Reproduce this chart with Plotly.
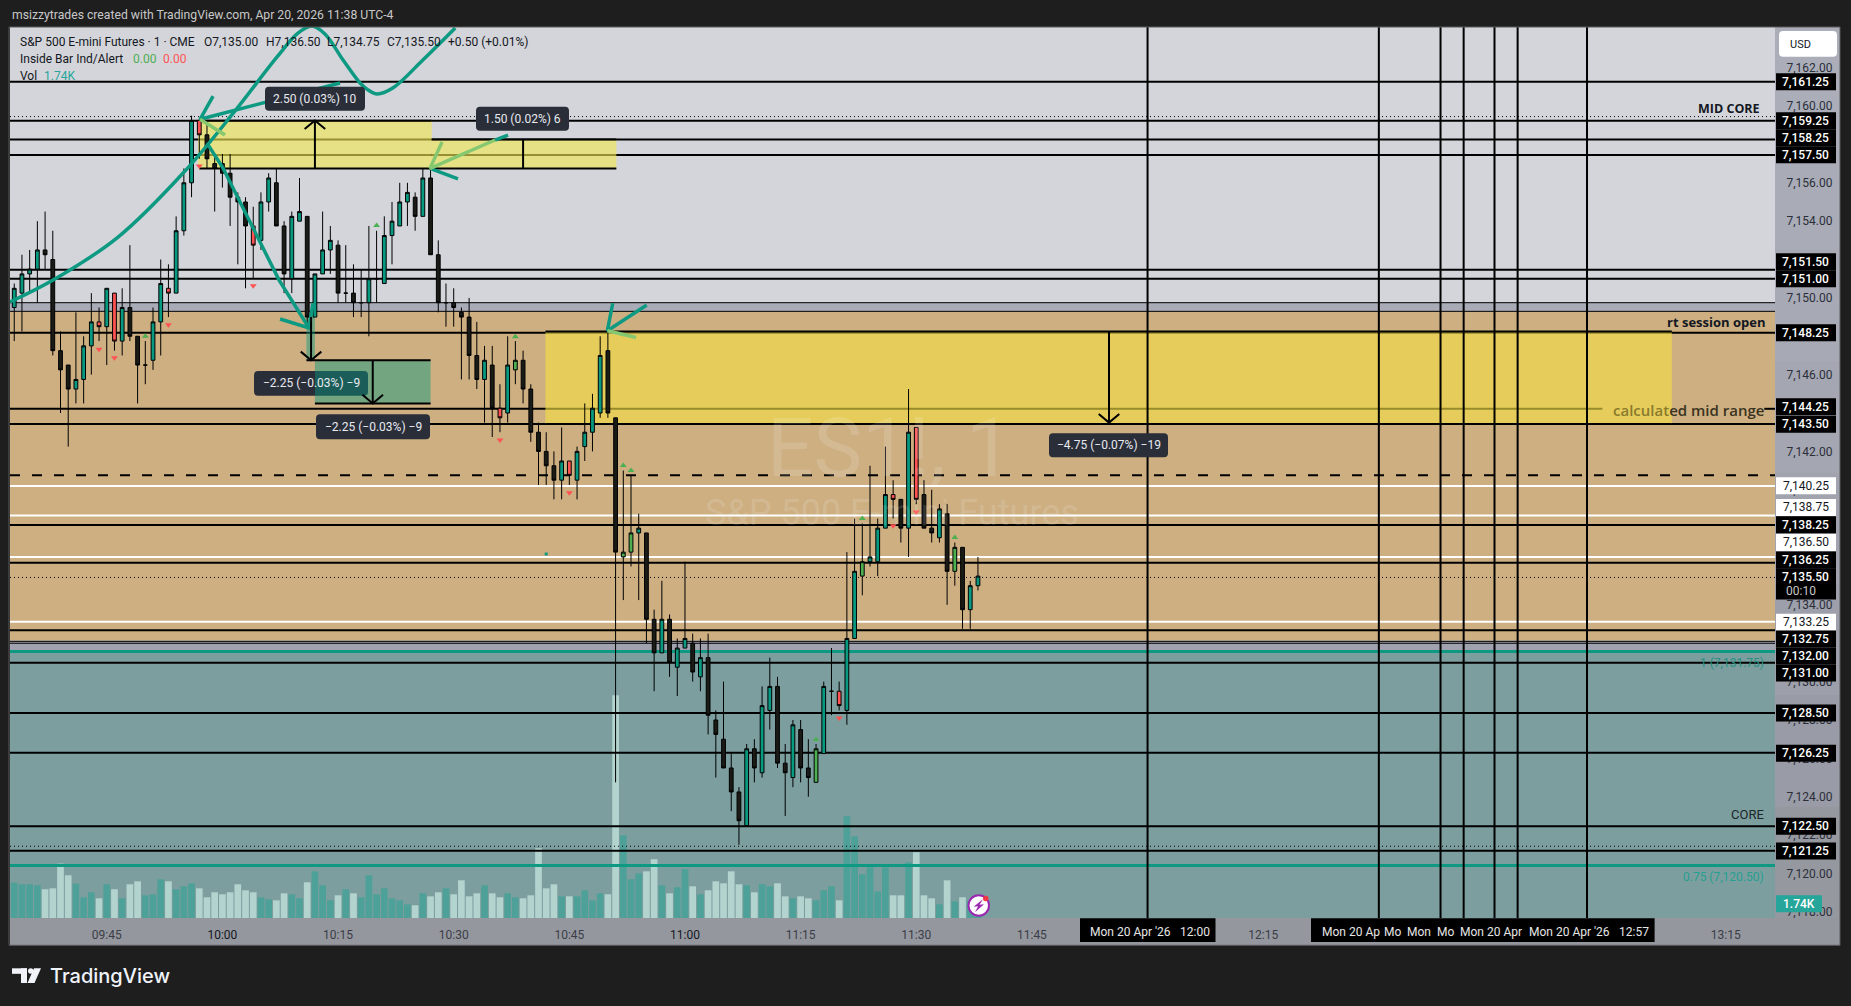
import pandas as pd
import plotly.graph_objects as go


## DATA ##
start_time = "2026-04-20 09:33"
opens = [7149.5, 7150.25, 7151.25, 7151.5, 7152.5, 7152, 7147.25, 7146.5, 7145.25, 7145.75,
         7147.5, 7148.75, 7148.5, 7150.25, 7147.75, 7149.5, 7148, 7146.5, 7146.75, 7148.75,
         7150.5, 7150.25, 7153.5, 7156, 7159.25, 7158.5, 7157, 7157, 7156.5, 7155.25,
         7155, 7153.75, 7153, 7155, 7156, 7153.75, 7151, 7154, 7154.25, 7149,
         7151.25, 7152.5, 7152.75, 7150.25, 7150.25, 7149.75, 7149.75, 7151, 7150.75, 7153.25,
         7153.75, 7155, 7155.25, 7154.25, 7156.25, 7152.25, 7149.75, 7149.75, 7149.25, 7149,
         7147, 7145.75, 7146.5, 7144.25, 7144, 7146.25, 7146.75, 7145.25, 7143, 7142,
         7141.25, 7140.5, 7141.5, 7140.5, 7142.25, 7143, 7144, 7147.25, 7143.75, 7136.5,
         7136.75, 7137.75, 7137.75, 7133.25, 7131.5, 7133.25, 7130.75, 7131.75, 7132, 7130.25,
         7131.25, 7128, 7127, 7125.5, 7124.25, 7122.5, 7126.5, 7125.25, 7128.5, 7129.75,
         7125.75, 7125, 7127.5, 7125.5, 7124.75, 7126.25, 7129.5, 7129.5, 7128.5, 7132.25,
         7135.5, 7136.25, 7136.25, 7138, 7139.75, 7139.5, 7138, 7143.25, 7139.75, 7138,
         7137.5, 7138.75, 7135.75, 7137, 7133.75, 7135]
highs = [7150.75, 7152.25, 7152.5, 7154, 7154.5, 7153.5, 7148.25, 7146.5, 7149.25, 7148,
         7150.25, 7149.5, 7150.5, 7150.25, 7150.5, 7152.75, 7148, 7147.75, 7149.5, 7152,
         7151.75, 7154.25, 7156.75, 7159.5, 7159.25, 7159.25, 7157.5, 7157.5, 7157.5, 7155.5,
         7155.25, 7154.75, 7155.5, 7156.5, 7156.75, 7154, 7154.5, 7156.25, 7154.25, 7151.25,
         7154.5, 7153.75, 7153, 7152.75, 7151.75, 7151.5, 7153.75, 7153.5, 7154.25, 7155,
         7156, 7156, 7155.5, 7156.75, 7156.75, 7153, 7150.75, 7150.5, 7149.5, 7150,
         7148.75, 7147.5, 7147.5, 7145.5, 7148, 7147.75, 7147.25, 7145.5, 7143.5, 7143,
         7142, 7143.25, 7141.5, 7142.25, 7144.5, 7145, 7148, 7148.25, 7143.75, 7141,
         7140.75, 7138.75, 7137.75, 7133.75, 7135.25, 7133.5, 7132.25, 7136.25, 7132.5, 7132.25,
         7132.5, 7128.5, 7130, 7126.25, 7124.5, 7126.75, 7127, 7129.75, 7131.25, 7130.25,
         7126.75, 7128, 7128, 7127, 7126.75, 7130, 7131.75, 7130, 7136.75, 7138.5,
         7138.25, 7141.25, 7138.5, 7142.25, 7140.5, 7139.5, 7145.25, 7143.25, 7140.5, 7140,
         7139.25, 7139.25, 7137.25, 7137, 7135.25, 7136.5]
lows = [7147.75, 7148.25, 7150.25, 7149.75, 7151.5, 7147, 7144, 7142.25, 7144.5, 7144.5,
        7146, 7147.75, 7146.5, 7147.25, 7147, 7147.75, 7144.5, 7145.5, 7146.25, 7147,
        7149, 7150.25, 7153.25, 7155.25, 7157.25, 7156.75, 7154.5, 7155.75, 7153.75, 7151.75,
        7150.5, 7151, 7152.5, 7154.5, 7153.75, 7150.25, 7150.25, 7154, 7148.5, 7149,
        7151.25, 7151.25, 7149.75, 7149.75, 7149, 7149, 7148, 7149.75, 7150.75, 7151.75,
        7153.75, 7153.75, 7153.5, 7154.25, 7152.25, 7149.25, 7148.5, 7148.5, 7145.75, 7145.75,
        7145.25, 7143.5, 7142.75, 7143, 7143.5, 7145.5, 7144.5, 7142.5, 7140.25, 7140.25,
        7139.5, 7139.5, 7140.25, 7139.5, 7141.5, 7142, 7143.75, 7143.75, 7124.75, 7134.25,
        7136, 7134.25, 7132, 7129.5, 7131.5, 7130.25, 7129.25, 7131.75, 7130, 7129.5,
        7127.25, 7125, 7125.5, 7123.25, 7121.5, 7122.5, 7124.75, 7125, 7127.5, 7125.5,
        7123, 7124.5, 7124.75, 7124, 7124.75, 7126.25, 7128.25, 7128.5, 7127.75, 7132.25,
        7134.5, 7136, 7135.5, 7138, 7138.5, 7137.25, 7136.5, 7139.25, 7138, 7137.25,
        7137.25, 7134, 7135, 7132.75, 7132.75, 7134.75]
closes = [7150.5, 7151.25, 7151.5, 7152.5, 7152.25, 7147.25, 7146.25, 7145.25, 7145.75, 7147.5,
          7148.75, 7148.5, 7150.5, 7147.75, 7149.5, 7148, 7146.5, 7146.5, 7148.75, 7150.75,
          7150.25, 7153.5, 7156, 7159.25, 7158.5, 7157.25, 7156.75, 7156.5, 7155.25, 7155,
          7153.75, 7152.75, 7155, 7156.25, 7153.75, 7151.25, 7154.25, 7154.5, 7149, 7151.25,
          7152.5, 7153, 7150.25, 7150.25, 7149.75, 7149.75, 7151, 7151, 7153.25, 7154,
          7155, 7155.5, 7154.25, 7156.25, 7152.25, 7149.75, 7149.75, 7149.5, 7149, 7147,
          7145.75, 7146.75, 7144.25, 7143.75, 7146.5, 7146.75, 7145.25, 7143, 7142, 7141.25,
          7140.5, 7141.5, 7140.75, 7142, 7143, 7144.25, 7147, 7144, 7136.75, 7136.75,
          7137.75, 7138, 7133.25, 7131.5, 7133.25, 7131, 7131.75, 7132.25, 7130.5, 7131.25,
          7128.25, 7127.25, 7125.5, 7124.25, 7122.75, 7126.5, 7125.5, 7128.75, 7129.75, 7125.75,
          7125.25, 7127.75, 7125.5, 7125, 7126.5, 7129.75, 7129.5, 7128.75, 7132.25, 7135.75,
          7136.25, 7136.5, 7138, 7139.75, 7139.5, 7138, 7143, 7139.5, 7138, 7137.75,
          7139, 7135.75, 7137, 7133.75, 7135, 7135.5]
volumes = [4.10, 3.91, 3.91, 3.79, 3.33, 3.44, 6.30, 4.95, 3.98, 2.40,
           2.98, 2.28, 3.91, 3.33, 2.28, 3.91, 4.25, 2.63, 2.75, 4.49,
           4.25, 3.33, 3.67, 4.02, 3.44, 2.40, 2.98, 2.75, 2.98, 3.91,
           3.21, 2.98, 2.40, 2.17, 2.05, 2.86, 2.75, 2.28, 4.14, 5.41,
           3.79, 2.05, 2.63, 3.33, 2.86, 2.40, 4.95, 2.75, 3.44, 2.28,
           2.05, 1.59, 1.47, 2.86, 2.51, 2.98, 3.44, 2.75, 4.37, 2.51,
           2.86, 3.79, 2.86, 2.40, 2.86, 2.40, 2.28, 2.63, 8.08, 3.44,
           3.91, 2.51, 2.51, 2.51, 3.21, 2.05, 2.86, 2.75, 25.83, 9.59,
           4.49, 5.18, 5.41, 6.81, 3.79, 2.86, 3.56, 5.65, 3.67, 2.75,
           3.21, 4.25, 4.02, 5.41, 3.91, 3.79, 2.98, 3.91, 3.67, 4.02,
           2.51, 2.28, 2.51, 2.28, 2.05, 3.21, 3.67, 2.05, 11.79, 9.47,
           5.07, 5.88, 3.09, 5.88, 2.63, 2.63, 6.46, 7.62, 2.63, 2.28,
           1.59, 4.37, 1.93, 2.40, 2.00, 1.74]

# inside bar signals
sell_times = ["09:44", "09:46", "09:53", "09:57", "10:04", "10:36", "10:45", "11:20", "11:27", "11:30"]
sell_prices = [7147.33, 7146.88, 7148.6, 7156.87, 7150.64, 7142.59, 7139.84, 7128.1, 7138.12, 7138.84]
buy_times = ["09:50", "10:20", "10:38", "10:52", "10:53", "11:17", "11:23", "11:35"]
buy_prices = [7148.0, 7153.78, 7147.98, 7141.27, 7141.0, 7126.98, 7138.5, 7137.51]
green_bars = ["10:38", "10:52", "10:53", "11:17", "11:23", "11:35"]

# horizontal levels
black_levels = [7161.27, 7159.24, 7158.25, 7157.45, 7151.47, 7151.0, 7148.18, 7143.43, 7138.17,
                7136.19, 7132.68, 7130.98, 7128.37, 7126.29, 7122.46, 7121.18]
thin_levels = [7149.75, 7149.3, 7132.1, 7132.0]
white_levels = [7140.2, 7138.66, 7136.5, 7133.12]
dotted_levels = [7159.45, 7135.43, 7121.42]
dashed_level = 7140.76
mid_range_level = 7144.22
fib_levels = [7131.57, 7120.42]
vertical_times = ["12:00", "12:30", "12:38", "12:41", "12:45", "12:48", "12:57"]

# axis ticks that are not fully hidden by a tag
tick_prices = [7118, 7120, 7122, 7124, 7126, 7128, 7130, 7134, 7140, 7142, 7146, 7150, 7154, 7156, 7160, 7162]
tick_times = ["09:45", "10:00", "10:15", "10:30", "10:45", "11:00", "11:15", "11:30", "11:45", "12:15", "13:15"]

# price tags on the right axis: text, centre pixel, white tag or not
tag_texts = ["7,161.25", "7,159.25", "7,158.25", "7,157.50", "7,151.50", "7,151.00", "7,148.25",
             "7,144.25", "7,143.50", "7,140.25", "7,138.75", "7,138.25", "7,136.50", "7,136.25",
             "7,133.25", "7,132.75", "7,132.00", "7,131.00", "7,128.50", "7,126.25", "7,122.50",
             "7,121.25"]
tag_rows = [81.7, 120.7, 137.7, 154.7, 261.7, 278.7, 332.7, 406.7, 424, 485.7, 507.3, 524.7,
            542.3, 559.7, 622, 638.7, 655.7, 672.7, 712.7, 753, 826, 850.7]
white_tags = ["7,140.25", "7,138.75", "7,136.50", "7,133.25"]

# hand drawn strokes, minutes after 09:45 and price
curve_min = [-12.54, -6.96, 1.47, 10.03, 16.43, 22.09, 24.8, 26.6, 28.3, 30.65, 32.85, 33.9, 35.06, 37.1, 41.0, 45.2]
curve_price = [7149.79, 7150.93, 7153.17, 7156.56, 7159.64, 7162.56, 7163.8, 7164.17, 7163.76, 7162.4,
               7161.2, 7160.84, 7160.63, 7160.94, 7162.4, 7164.07]
teal_strokes = [
    ([13.79, 12.1, 30.26], [7160.52, 7159.31, 7161.2]),
    ([13.0, 15.08, 22.35, 26.24], [7158.07, 7156.77, 7150.93, 7148.43]),
    ([22.48, 26.24, 26.75], [7148.9, 7148.43, 7149.73]),
    ([45.56, 41.93, 41.93], [7156.2, 7156.75, 7156.75]),
    ([50.36, 52.05], [7158.23, 7158.49]),
    ([65.63, 64.93, 70.04], [7149.72, 7148.29, 7149.63]),
]
light_strokes = [
    ([12.1, 15.34], [7159.31, 7158.49]),
    ([43.49, 41.93, 50.36], [7158.13, 7156.75, 7158.23]),
    ([64.93, 68.65], [7148.29, 7147.94]),
]


## PARAMS ##
WIDTH, HEIGHT = 1851, 1006
LEFT, RIGHT, TOP, BOTTOM = 10, 1775, 27, 917.7
PRICE_RANGE = [7117.68, 7164.12]
VOL_RANGE = [0, 103.3]
TIME_RANGE = ["2026-04-20 09:32:27", "2026-04-20 13:21:23"]
FONT = "Roboto"
TEAL = "#0E9A82"
LIGHT_STROKE = "#86C870"
DARK_LABEL = "#2A2E39"
INK = "#131722"


## FUNC ##
def at(hhmm):
    return pd.Timestamp(f"2026-04-20 {hhmm}")

def after_945(minutes):
    return pd.Timestamp("2026-04-20 09:45") + pd.Timedelta(minutes=minutes)

def px(x):
    return (x - LEFT) / (RIGHT - LEFT)

def py(y):
    return (BOTTOM - y) / (BOTTOM - TOP)

def text(x, y, s, size=12, color=INK, anchor="left", weight=None, family=FONT):
    fig.add_annotation(x=px(x), y=py(y), xref="paper", yref="paper", text=s, showarrow=False,
                       xanchor=anchor, yanchor="middle",
                       font=dict(size=size, color=color, family=family, weight=weight))

def box(x0, y0, x1, y1, color, layer="above"):
    fig.add_shape(type="rect", xref="paper", yref="paper", x0=px(x0), x1=px(x1), y0=py(y0), y1=py(y1),
                  fillcolor=color, line_width=0, layer=layer)

def round_box(x0, y0, x1, y1, color, r=4, layer="above"):
    """Rettangolo arrotondato in coordinate pixel, per le etichette dei righelli"""
    corners = (f"M {px(x0 + r)} {py(y0)} L {px(x1 - r)} {py(y0)} Q {px(x1)} {py(y0)} {px(x1)} {py(y0 + r)} "
               f"L {px(x1)} {py(y1 - r)} Q {px(x1)} {py(y1)} {px(x1 - r)} {py(y1)} "
               f"L {px(x0 + r)} {py(y1)} Q {px(x0)} {py(y1)} {px(x0)} {py(y1 - r)} "
               f"L {px(x0)} {py(y0 + r)} Q {px(x0)} {py(y0)} {px(x0 + r)} {py(y0)} Z")
    fig.add_shape(type="path", xref="paper", yref="paper", path=corners, fillcolor=color, line_width=0, layer=layer)

def level(price, color="black", width=2, dash=None, x0=TIME_RANGE[0], x1=TIME_RANGE[1]):
    fig.add_trace(go.Scatter(x=[x0, x1], y=[price, price], mode="lines", yaxis="y2", hoverinfo="skip",
                             line=dict(color=color, width=width, dash=dash), showlegend=False))

def zone(t0, t1, p0, p1, color):
    fig.add_trace(go.Scatter(x=[t0, t1, t1, t0, t0], y=[p0, p0, p1, p1, p0], mode="lines", yaxis="y2",
                             fill="toself", fillcolor=color, line_width=0, hoverinfo="skip", showlegend=False))

def ruler(t, p0, p1, head=True):
    """Asta del righello con la punta a V su p1"""
    fig.add_trace(go.Scatter(x=[t, t], y=[p0, p1], mode="lines", yaxis="y4", hoverinfo="skip",
                             line=dict(color="black", width=2), showlegend=False))
    if head:
        back = 0.45 if p1 < p0 else -0.45
        fig.add_trace(go.Scatter(x=[t - pd.Timedelta(seconds=80), t, t + pd.Timedelta(seconds=80)],
                                 y=[p1 + back, p1, p1 + back], mode="lines", yaxis="y4", hoverinfo="skip",
                                 line=dict(color="black", width=2), showlegend=False))

def stroke(minutes, prices, color, spline=False):
    fig.add_trace(go.Scatter(x=[after_945(m) for m in minutes], y=prices, mode="lines", yaxis="y4", hoverinfo="skip",
                             line=dict(color=color, width=3.5, shape="spline" if spline else "linear"),
                             showlegend=False))


## MAIN ##
assert len(opens) == len(highs) == len(lows) == len(closes) == len(volumes)
times = pd.date_range(start_time, periods=len(opens), freq="min")
bars = pd.DataFrame(dict(time=times, o=opens, h=highs, l=lows, c=closes, v=volumes))

red_index = [at(t) for t in sell_times]
green_index = [at(t) for t in green_bars]
bars["kind"] = "down"
bars.loc[bars.c > bars.o, "kind"] = "up"
bars.loc[bars.time.isin(red_index), "kind"] = "red"
bars.loc[bars.time.isin(green_index), "kind"] = "green"

fig = go.Figure()

# volume sotto a tutto
fig.add_trace(go.Bar(x=bars.time, y=bars.v, width=52000, yaxis="y", hoverinfo="skip", showlegend=False,
                     marker=dict(color=["#4EA198" if c >= o else "#B3D4CE" for o, c in zip(bars.o, bars.c)], line_width=0)))

# livelli, sopra al volume e sotto alle candele
for p in black_levels:
    level(p)
for p in thin_levels:
    level(p, width=1)
for p in white_levels:
    level(p, color="white")
for p in dotted_levels:
    level(p, width=1, dash="1px,3px")
level(dashed_level, dash="10px,12px")
for p in fib_levels:
    level(p, color=TEAL, width=3)
level(mid_range_level, x1="2026-04-20 12:59:00")
level(mid_range_level, x0="2026-04-20 13:20:00")

# zone colorate, trasparenti sopra ai livelli
YELLOW_TOP = "rgba(243,232,80,0.62)"
YELLOW_MAIN = "rgba(245,224,67,0.62)"
GREEN_ZONE = "rgba(8,153,129,0.45)"
zone("2026-04-20 09:56:51", "2026-04-20 10:27:09", 7156.75, 7159.25, YELLOW_TOP)
zone("2026-04-20 10:27:09", "2026-04-20 10:51:06", 7156.75, 7158.25, YELLOW_TOP)
zone("2026-04-20 10:41:54", "2026-04-20 13:08:00", 7143.43, 7148.25, YELLOW_MAIN)
zone("2026-04-20 10:10:54", str(at("10:12")), 7146.75, 7149.0, GREEN_ZONE)
zone(str(at("10:12")), str(at("10:27")), 7144.5, 7146.75, GREEN_ZONE)

# bordi delle zone e verticali, neri anche sopra al giallo
level(7159.24, x0="2026-04-20 09:56:51", x1="2026-04-20 10:27:09")
level(7158.25, x0="2026-04-20 10:27:09", x1="2026-04-20 10:51:06")
level(7156.75, x0=str(at("09:57")), x1="2026-04-20 10:51:06")
level(7146.75, x0="2026-04-20 10:10:54", x1=str(at("10:27")))
level(7144.5, x0=str(at("10:12")), x1=str(at("10:27")))
level(7148.25, x0="2026-04-20 10:41:54", x1="2026-04-20 13:08:00")
level(7143.43, x0="2026-04-20 10:41:54", x1="2026-04-20 13:08:00")
for t in vertical_times:
    fig.add_trace(go.Scatter(x=[at(t), at(t)], y=PRICE_RANGE, mode="lines", yaxis="y2", hoverinfo="skip",
                             line=dict(color="black", width=2), showlegend=False))

# candele
styles = {"up": "#089981", "down": "#1A1A16", "red": "#FF5252", "green": "#4CAF50"}
for kind, fill in styles.items():
    part = bars[bars.kind == kind]
    fig.add_trace(go.Candlestick(x=part.time, open=part.o, high=part.h, low=part.l, close=part.c, yaxis="y3",
                                 increasing=dict(fillcolor=fill, line=dict(color="black", width=1)),
                                 decreasing=dict(fillcolor=fill, line=dict(color="black", width=1)),
                                 whiskerwidth=0, hoverinfo="skip", showlegend=False))

# segnali inside bar
fig.add_trace(go.Scatter(x=[at(t) for t in sell_times], y=sell_prices, mode="markers", yaxis="y4", hoverinfo="skip",
                         marker=dict(symbol="triangle-down", size=6, color="#FF5252"), showlegend=False))
fig.add_trace(go.Scatter(x=[at(t) for t in buy_times], y=buy_prices, mode="markers", yaxis="y4", hoverinfo="skip",
                         marker=dict(symbol="triangle-up", size=6, color="#4CAF50"), showlegend=False))
fig.add_trace(go.Scatter(x=[at("10:42")], y=[7136.65], mode="markers", yaxis="y4", hoverinfo="skip",
                         marker=dict(symbol="square", size=3, color=TEAL), showlegend=False))

# disegni a mano e righelli
stroke(curve_min, curve_price, TEAL, spline=True)
for m, p in teal_strokes:
    stroke(m, p, TEAL)
for m, p in light_strokes:
    stroke(m, p, LIGHT_STROKE)
ruler(at("10:12"), 7156.75, 7159.25)
ruler(at("10:39"), 7156.75, 7158.25, head=False)
ruler(at("11:55"), 7148.25, 7143.5)
ruler(pd.Timestamp("2026-04-20 10:11:30"), 7149.0, 7146.75)
ruler(pd.Timestamp("2026-04-20 10:19:30"), 7146.75, 7144.5)

# pannelli degli assi
shades = ["#ABAEB9", "#A9ACB7", "#A7A9B5", "#A4A6B1", "#A1A3AE", "#9D9FAA", "#999BA6", "#96989F"]
for i, shade in enumerate(shades):
    seg = (BOTTOM - TOP) / len(shades)
    box(RIGHT, TOP + i * seg, 1840, TOP + (i + 1) * seg + 1, shade, layer="below")
box(LEFT, BOTTOM, 1840, 945, "#95979F", layer="below")
# fondi di prezzo
for p0, p1, color in [(PRICE_RANGE[0], 7131.57, "#7C9E9F"), (7131.57, 7132.15, "#A0A2B0"),
                      (7132.15, 7149.3, "#CDAF82"), (7149.3, 7149.75, "#A9ACB7")]:
    fig.add_shape(type="rect", xref="paper", yref="y2", x0=0, x1=1, y0=p0, y1=p1, fillcolor=color, line_width=0, layer="below")
fig.add_shape(type="rect", xref="paper", yref="paper", x0=px(9), x1=px(1840), y0=py(27), y1=py(945),
              line=dict(color="#5A5A5A", width=1), layer="above")

# etichette dei righelli
round_box(265, 86.7, 365, 110.7, DARK_LABEL)
round_box(476, 106.7, 569, 130.7, DARK_LABEL)
round_box(254, 371, 368, 395.7, DARK_LABEL, layer="below")
round_box(316, 414, 430, 439, DARK_LABEL)
round_box(1049, 433, 1168, 457, DARK_LABEL)
text(315, 98.7, "2.50 (0.03%) 10", color="#E8EAF0", anchor="center")
text(522.5, 118.7, "1.50 (0.02%) 6", color="#E8EAF0", anchor="center")
text(311, 383.3, "−2.25 (−0.03%) −9", color="#E8EAF0", anchor="center")
text(373, 426.5, "−2.25 (−0.03%) −9", color="#E8EAF0", anchor="center")
text(1108.5, 445, "−4.75 (−0.07%) −19", color="#E8EAF0", anchor="center")

# intestazione
text(10, 15, "msizzytrades created with TradingView.com, Apr 20, 2026 11:38 UTC-4", size=12.2, color="#C8C8C8")
text(18, 41.7, "S&P 500 E-mini Futures · 1 · CME")
text(202, 41.7, "O7,135.00")
text(264, 41.7, "H7,136.50")
text(325, 41.7, "L7,134.75")
text(385, 41.7, "C7,135.50")
text(446, 41.7, "+0.50 (+0.01%)")
text(18, 58.7, "Inside Bar Ind/Alert")
text(131, 58.7, "0.00", color="#4CAF50")
text(161, 58.7, "0.00", color="#FF5252")
text(18, 75.7, "Vol")
text(42, 75.7, "1.74K", color="#26A69A")

# filigrana
text(889, 448, "ES1!, 1", size=82, color="rgba(255,255,255,0.14)", anchor="center")
text(892, 513, "S&P 500 E-mini Futures", size=36, color="rgba(255,255,255,0.14)", anchor="center")

# etichette a destra del grafico
text(1762, 108, "MID CORE", size=12.5, anchor="right", weight=700, family="Open Sans")
text(1767, 321.7, "rt session open", size=13, anchor="right", weight=700, family="Open Sans")
text(1766, 410, '<span style="color:#8A7A2C">calculat</span>ed mid range', size=15, color="#3A3320",
     anchor="right", weight=600, family="Open Sans")
text(1766, 662.7, "1 (7,131.75)", size=12, color="#26917F", anchor="right")
text(1766, 814, "CORE", size=13, color="#1C2528", anchor="right")
text(1766, 876.7, "0.75 (7,120.50)", size=12, color="#26A090", anchor="right")

# tag di prezzo
box(1776, 568, 1836, 599.3, "black")
text(1806, 576.7, "7,135.50", color="white", anchor="center", weight=500)
text(1784, 590.5, "00:10", color="#C8C8C8")
for label, row in zip(tag_texts, tag_rows):
    is_white = label in white_tags
    box(1776, row - 8.5, 1836, row + 8.5, "white" if is_white else "black")
    text(1806, row, label, color=INK if is_white else "white", anchor="center", weight=None if is_white else 500)
box(1776, 895, 1822, 912, "#26A69A")
text(1799, 903.5, "1.74K", color="white", anchor="center", weight=500)
round_box(1779, 31, 1837, 56.7, "white", r=4)
text(1788, 44, "USD", size=11)

# tag temporali
box(1080, 918, 1215.5, 941.7, "black")
box(1311, 918, 1654.6, 941.7, "black")
text(1088, 931.5, "Mon 20 Apr '26", color="#E6E6E6")
text(1178, 931.5, "12:00", color="#E6E6E6")
text(1320, 931.5, "Mon 20 Ap", color="#E6E6E6")
text(1382, 931.5, "Mo", color="#E6E6E6")
text(1404.5, 931.5, "Mon", color="#E6E6E6")
text(1435, 931.5, "Mo", color="#E6E6E6")
text(1458, 931.5, "Mon 20 Apr", color="#E6E6E6")
text(1527, 931.5, "Mon 20 Apr '26", color="#E6E6E6")
text(1617, 931.5, "12:57", color="#E6E6E6")

# icona lampo
fig.add_shape(type="circle", xref="paper", yref="paper", x0=px(968.5), x1=px(989), y0=py(895), y1=py(915.5),
              fillcolor="white", line=dict(color="#9C27B0", width=2), layer="above")
fig.add_shape(type="path", xref="paper", yref="paper", fillcolor="#9C27B0", line_width=0, layer="above",
              path=f"M {px(983)} {py(899)} L {px(973.5)} {py(906.5)} L {px(978)} {py(906)} L {px(975)} {py(912)} "
                   f"L {px(984)} {py(904)} L {px(979.5)} {py(904.5)} Z")
fig.add_shape(type="circle", xref="paper", yref="paper", x0=px(983), x1=px(988.5), y0=py(895.5), y1=py(901),
              fillcolor="#F23645", line_width=0, layer="above")

# logo
box(12, 968, 27, 973.5, "#F0F3FA")
box(21, 968, 27, 982.7, "#F0F3FA")
fig.add_shape(type="circle", xref="paper", yref="paper", x0=px(28), x1=px(33.5), y0=py(968), y1=py(973.5),
              fillcolor="#F0F3FA", line_width=0, layer="above")
fig.add_shape(type="path", xref="paper", yref="paper", fillcolor="#F0F3FA", line_width=0, layer="above",
              path=f"M {px(34)} {py(968)} L {px(41)} {py(968)} L {px(34.5)} {py(982.7)} L {px(27.5)} {py(982.7)} Z")
text(48, 975.5, "TradingView", size=20, color="#F0F3FA", weight=500, family="Inter")

fig.update_layout(
    width=WIDTH,
    height=HEIGHT,
    margin=dict(l=LEFT, r=WIDTH - RIGHT, t=TOP, b=HEIGHT - BOTTOM, autoexpand=False),
    paper_bgcolor="#1E1E1E",
    plot_bgcolor="#D3D5DA",
    showlegend=False,
    hovermode=False,
    font=dict(family=FONT, size=12, color=INK),
    xaxis=dict(
        type="date",
        range=TIME_RANGE,
        rangeslider_visible=False,
        tickmode="array",
        tickvals=[at(t) for t in tick_times],
        ticktext=[f'<span style="color:#131722">{t}</span>' if t.endswith(":00") else t for t in tick_times],
        ticks="outside",
        ticklen=6,
        tickcolor="rgba(0,0,0,0)",
        tickfont=dict(size=12, color="#3A3D46"),
        showgrid=False,
        zeroline=False,
        showline=False,
    ),
    yaxis=dict(range=VOL_RANGE, visible=False),
    yaxis2=dict(
        range=PRICE_RANGE,
        overlaying="y",
        side="right",
        anchor="x",
        tickmode="array",
        tickvals=tick_prices,
        ticktext=[f"{p:,.2f}" for p in tick_prices],
        ticks="outside",
        ticklen=8,
        tickcolor="rgba(0,0,0,0)",
        tickfont=dict(size=12, color="#2A2E39"),
        showgrid=False,
        zeroline=False,
        showline=False,
    ),
    yaxis3=dict(range=PRICE_RANGE, overlaying="y", visible=False),
    yaxis4=dict(range=PRICE_RANGE, overlaying="y", visible=False),
)

fig.write_html("out.html", config={"displayModeBar": False}, post_script="document.body.style.margin='0';")
